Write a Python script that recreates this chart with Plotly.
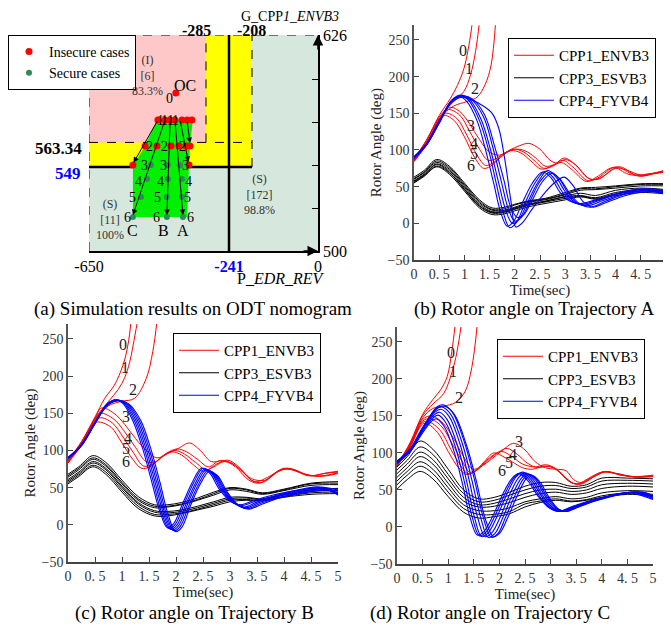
import numpy as np
import plotly.graph_objects as go

FONT = "Liberation Serif"
W, H = 671, 631
PAGE_OFFSET = 8   # the HTML body adds an 8 px margin; layout positions are given in window pixels

# ------------------------------------------------------------------
# (a) ODT nomogram data
# ------------------------------------------------------------------
X_BREAKS = [-650, -285, -241, -208, 0]      # P_EDR_REV values marked on the nomogram
X_DRAW = [0, 117, 140, 163, 229]            # schematic (not to scale) positions of those values
Y_MIN, Y_MAX = 500, 626
G_LIMIT_HI, G_LIMIT_LO = 563.34, 549
Y_TICKS = [500, 525, 550, 575, 600, 626]

OC_X, OC_Y = [-379], [592.2]
ROW_Y = [576.4, 561.2, 550.2, 542.0, 531.5, 519.8]          # cases 1..6
INSECURE_X = [[-435, -413, -397, -382, -360, -344, -329],
              [-475, -438, -394, -369, -347, -335],
              [-513, -338], [], [], []]
SECURE_X = [[], [], [-457, -404, -366], [-469, -404, -360],
            [-488, -407, -360], [-513, -407, -357]]
REGION_X = [-438, -326, -335, -338, -344, -513, -513, -475]
REGION_Y = [576.4, 576.4, 561.2, 549.6, 519.8, 519.8, 549.6, 561.2]
ARROWS = [((-435, 576.4), (-511, 551.5)), ((-413, 576.4), (-513, 521.0)),
          ((-397, 576.4), (-407, 521.0)), ((-382, 576.4), (-357, 521.0)),
          ((-366, 576.4), (-340, 552.0)), ((-344, 576.4), (-335, 563.0))]
CASE_LABELS = [("1", -428, 576.4), ("1", -413, 576.4), ("1", -397, 576.4), ("1", -379, 576.4),
               ("2", -460, 561.2), ("2", -413, 561.2), ("2", -357, 561.2),
               ("3", -478, 549.6), ("3", -419, 549.6), ("3", -350, 549.6),
               ("4", -497, 540.8), ("4", -428, 540.8), ("4", -341, 540.8),
               ("5", -513, 531.5), ("5", -435, 531.5), ("5", -344, 531.5),
               ("6", -531, 519.8), ("6", -438, 519.8), ("6", -332, 519.8),
               ("0", -400, 588.7)]
TRAJ_LABELS = [("C", -513, 512.2), ("B", -419, 512.2), ("A", -357, 512.2), ("OC", -350, 596.5)]
REGION_TEXT = [("(I)<br>[6]<br>83.3%", -466, 602.5),
               ("(S)<br>[11]<br>100%", -584, 518.5),
               ("(S)<br>[172]<br>98.8%", -183, 533.0)]


def nx(v):
    return np.interp(v, X_BREAKS, X_DRAW).tolist()


# ------------------------------------------------------------------
# Rotor angle curves (t [s], angle [deg])
# ------------------------------------------------------------------
T_TICKS = [0, 0.5, 1, 1.5, 2, 2.5, 3, 3.5, 4, 4.5, 5]
T_TICKTEXT = ["0", "0. 5", "1", "1. 5", "2", "2. 5", "3", "3. 5", "4", "4. 5", "5"]
ANG_TICKS = [-50, 0, 50, 100, 150, 200, 250]
ANG_TICKTEXT = ["\u221250", "0", "50", "100", "150", "200", "250"]

# --- Trajectory A ---
A_RED = [
    [(0, 88), (0.25, 114), (0.5, 147), (0.72, 170), (0.86, 188), (0.99, 211), (1.09, 243), (1.16, 275)],
    [(0, 87), (0.25, 113), (0.5, 145), (0.79, 166), (0.99, 180), (1.12, 202), (1.22, 234), (1.3, 275)],
    [(0, 86), (0.25, 112), (0.5, 143), (0.79, 160), (1.05, 166), (1.25, 172), (1.41, 189), (1.53, 216), (1.62, 275)],
    [(0, 86), (0.25, 110), (0.5, 142), (0.7, 158), (0.9, 153), (1.1, 136), (1.3, 114), (1.5, 97), (1.7, 93),
     (1.9, 100), (2.1, 106), (2.28, 109), (2.5, 101), (2.7, 86), (2.85, 82), (3.0, 87), (3.2, 80), (3.5, 60),
     (3.7, 62), (4.0, 75), (4.2, 73), (4.5, 66), (4.8, 69), (5.0, 73)],
    [(0, 85), (0.25, 109), (0.5, 140), (0.66, 155), (0.9, 148), (1.1, 126), (1.3, 101), (1.47, 86), (1.62, 88),
     (1.8, 96), (2.0, 101), (2.2, 99), (2.4, 90), (2.6, 78), (2.78, 80), (2.98, 89), (3.2, 80), (3.45, 62),
     (3.65, 60), (3.95, 74), (4.1, 77), (4.4, 66), (4.7, 68), (5.0, 70)],
    [(0, 85), (0.25, 108), (0.5, 138), (0.63, 150), (0.85, 143), (1.05, 120), (1.25, 93), (1.42, 79), (1.58, 83),
     (1.78, 94), (1.98, 101), (2.18, 97), (2.38, 86), (2.58, 75), (2.78, 80), (2.95, 86), (3.15, 77), (3.45, 58),
     (3.65, 62), (4.0, 77), (4.3, 68), (4.5, 64), (4.8, 69), (5.0, 72)],
    [(0, 84), (0.25, 107), (0.5, 136), (0.6, 147), (0.8, 140), (1.0, 118), (1.2, 90), (1.38, 75), (1.52, 78),
     (1.72, 90), (1.92, 99), (2.12, 96), (2.32, 85), (2.52, 74), (2.72, 77), (2.92, 83), (3.12, 74), (3.42, 57),
     (3.62, 63), (3.95, 76), (4.25, 67), (4.55, 65), (4.8, 68), (5.0, 70)],
]
A_BLK_T = [0, 0.2, 0.45, 0.7, 1.0, 1.3, 1.55, 1.8, 2.0, 2.3, 2.6, 3.0, 3.3, 3.6, 4.0, 4.5, 5.0]
A_BLK = [
    [63, 72, 87, 78, 55, 32, 21, 22, 26, 31, 34, 42, 48, 49, 51, 54, 54],
    [61, 70, 85, 76, 53, 30, 19, 20, 25, 30, 33, 40, 47, 47, 50, 53, 53],
    [60, 69, 83, 74, 51, 28, 18, 18, 22, 29, 32, 39, 45, 46, 48, 51, 51],
    [58, 67, 81, 72, 49, 26, 16, 17, 21, 27, 30, 37, 41, 38, 45, 48, 46],
    [57, 66, 80, 70, 47, 24, 15, 16, 20, 26, 30, 36, 38, 35, 42, 46, 43],
    [56, 65, 78, 69, 46, 23, 14, 15, 19, 25, 29, 34, 37, 34, 40, 44, 42],
    [55, 64, 77, 67, 44, 21, 12, 13, 17, 23, 27, 32, 36, 33, 38, 42, 40],
]
A_BLU = [
    [(0, 91), (0.25, 109), (0.5, 140), (0.75, 167), (0.9, 173), (1.05, 166), (1.25, 140), (1.42, 100), (1.58, 55),
     (1.72, 15), (1.85, -4), (1.98, 3), (2.15, 28), (2.35, 55), (2.55, 70), (2.72, 62), (2.9, 42), (3.1, 30),
     (3.3, 27), (3.6, 32), (4.0, 40), (4.5, 46), (5.0, 44)],
    [(0, 90), (0.25, 108), (0.5, 139), (0.75, 168), (0.92, 174), (1.08, 168), (1.3, 140), (1.48, 100), (1.63, 55),
     (1.77, 15), (1.9, -6), (2.03, 1), (2.2, 27), (2.4, 55), (2.6, 71), (2.77, 62), (2.95, 42), (3.15, 29),
     (3.35, 26), (3.65, 32), (4.05, 41), (4.5, 47), (5.0, 45)],
    [(0, 90), (0.25, 108), (0.5, 138), (0.75, 168), (0.93, 175), (1.1, 169), (1.33, 142), (1.52, 100), (1.68, 55),
     (1.82, 18), (1.95, 0), (2.08, 5), (2.25, 28), (2.45, 55), (2.65, 72), (2.82, 63), (3.0, 43), (3.2, 28),
     (3.4, 25), (3.7, 32), (4.1, 41), (4.5, 46), (5.0, 43)],
    [(0, 89), (0.25, 107), (0.5, 137), (0.75, 167), (0.94, 174), (1.12, 170), (1.38, 145), (1.57, 102), (1.73, 58),
     (1.87, 20), (2.0, 3), (2.13, 8), (2.3, 30), (2.5, 57), (2.7, 70), (2.87, 62), (3.05, 42), (3.25, 27),
     (3.45, 24), (3.75, 31), (4.15, 40), (4.6, 45), (5.0, 41)],
    [(0, 89), (0.25, 107), (0.5, 137), (0.75, 166), (0.95, 173), (1.15, 170), (1.4, 148), (1.6, 105), (1.78, 60),
     (1.92, 22), (2.05, 8), (2.18, 12), (2.35, 32), (2.55, 57), (2.73, 68), (2.9, 60), (3.1, 40), (3.3, 26),
     (3.5, 22), (3.8, 30), (4.2, 40), (4.6, 44), (5.0, 40)],
    [(0, 90), (0.25, 108), (0.5, 138), (0.75, 165), (0.95, 172), (1.15, 168), (1.35, 161), (1.55, 150), (1.68, 130),
     (1.8, 88), (1.92, 32), (2.02, -5), (2.14, 0), (2.35, 20), (2.6, 42), (2.8, 56), (2.98, 63), (3.15, 52),
     (3.35, 30), (3.55, 22), (3.8, 28), (4.2, 38), (4.6, 43), (5.0, 41)],
]
A_LABELS = [("0", 0.97, 236), ("1", 1.10, 211), ("2", 1.22, 184), ("3", 1.13, 134),
            ("4", 1.20, 109), ("5", 1.20, 95), ("6", 1.13, 79)]

# --- Trajectory B ---
B_RED = [
    [(0, 86), (0.25, 112), (0.5, 145), (0.68, 170), (0.86, 188), (1.02, 215), (1.11, 242), (1.17, 275)],
    [(0, 86), (0.25, 111), (0.5, 143), (0.75, 166), (0.93, 182), (1.05, 198), (1.14, 218), (1.24, 255), (1.29, 275)],
    [(0, 85), (0.25, 110), (0.5, 142), (0.75, 160), (0.99, 166), (1.23, 170), (1.45, 197), (1.57, 233), (1.65, 275)],
    [(0, 86), (0.25, 110), (0.5, 143), (0.62, 157), (0.85, 150), (1.05, 135), (1.25, 116), (1.45, 100), (1.65, 90),
     (1.85, 96), (2.05, 103), (2.25, 110), (2.45, 100), (2.65, 85), (2.85, 86), (3.05, 82), (3.25, 70), (3.45, 58),
     (3.7, 64), (4.0, 76), (4.25, 72), (4.5, 66), (4.8, 70), (5.0, 72)],
    [(0, 85), (0.25, 109), (0.5, 141), (0.6, 150), (0.85, 142), (1.05, 125), (1.25, 104), (1.45, 85), (1.62, 85),
     (1.82, 96), (2.02, 102), (2.2, 98), (2.4, 88), (2.6, 78), (2.8, 86), (3.0, 84), (3.2, 74), (3.4, 62),
     (3.65, 60), (3.95, 74), (4.2, 74), (4.45, 66), (4.75, 69), (5.0, 71)],
    [(0, 84), (0.25, 108), (0.5, 139), (0.6, 144), (0.82, 137), (1.02, 118), (1.22, 96), (1.4, 79), (1.58, 82),
     (1.78, 94), (1.98, 100), (2.16, 95), (2.36, 84), (2.56, 74), (2.76, 82), (2.96, 87), (3.16, 78), (3.4, 60),
     (3.6, 57), (3.9, 72), (4.1, 76), (4.4, 67), (4.7, 66), (5.0, 70)],
    [(0, 83), (0.25, 107), (0.5, 137), (0.6, 138), (0.8, 131), (1.0, 110), (1.2, 88), (1.36, 76), (1.52, 78),
     (1.72, 90), (1.92, 98), (2.1, 94), (2.3, 82), (2.5, 72), (2.7, 78), (2.9, 85), (3.1, 78), (3.35, 60),
     (3.55, 56), (3.85, 70), (4.05, 75), (4.35, 69), (4.65, 65), (5.0, 69)],
]
B_BLK_T = [0, 0.2, 0.46, 0.7, 1.0, 1.3, 1.6, 1.85, 2.1, 2.4, 2.7, 3.0, 3.3, 3.6, 4.0, 4.5, 5.0]
B_BLK = [
    [68, 78, 93, 84, 60, 38, 27, 27, 30, 36, 44, 50, 48, 43, 48, 56, 58],
    [66, 76, 90, 81, 57, 35, 25, 25, 28, 34, 42, 49, 47, 42, 47, 55, 56],
    [64, 74, 88, 79, 55, 33, 23, 24, 27, 33, 40, 47, 45, 41, 46, 53, 54],
    [61, 71, 85, 76, 52, 30, 19, 18, 20, 25, 31, 37, 37, 35, 41, 47, 49],
    [59, 69, 83, 74, 50, 28, 17, 16, 18, 23, 29, 35, 36, 34, 40, 45, 46],
    [57, 67, 80, 71, 47, 25, 14, 14, 16, 21, 27, 33, 34, 33, 38, 43, 44],
    [55, 65, 78, 68, 44, 22, 12, 12, 15, 20, 25, 31, 33, 32, 37, 41, 42],
]
B_BLU = [
    [(0, 91), (0.25, 108), (0.5, 138), (0.72, 162), (0.88, 168), (1.02, 163), (1.2, 140), (1.38, 103), (1.55, 58),
     (1.7, 18), (1.84, -4), (1.96, 2), (2.12, 28), (2.3, 57), (2.47, 76), (2.62, 70), (2.8, 48), (3.0, 32),
     (3.2, 27), (3.45, 33), (3.8, 40), (4.2, 46), (4.6, 51), (5.0, 47)],
    [(0, 90), (0.25, 108), (0.5, 138), (0.72, 162), (0.89, 168), (1.04, 163), (1.23, 140), (1.41, 103), (1.58, 58),
     (1.73, 17), (1.87, -5), (1.99, 1), (2.15, 28), (2.33, 57), (2.5, 76), (2.65, 70), (2.83, 48), (3.03, 31),
     (3.23, 26), (3.48, 32), (3.83, 39), (4.25, 46), (4.65, 50), (5.0, 45)],
    [(0, 90), (0.25, 107), (0.5, 137), (0.72, 161), (0.9, 168), (1.06, 163), (1.26, 140), (1.44, 103), (1.61, 58),
     (1.76, 17), (1.9, -6), (2.02, 0), (2.18, 27), (2.36, 56), (2.53, 75), (2.68, 69), (2.86, 47), (3.06, 30),
     (3.26, 24), (3.51, 31), (3.86, 39), (4.3, 47), (4.7, 49), (5.0, 43)],
    [(0, 90), (0.25, 107), (0.5, 137), (0.72, 161), (0.9, 167), (1.08, 163), (1.29, 140), (1.47, 103), (1.64, 58),
     (1.79, 16), (1.93, -7), (2.05, -1), (2.21, 27), (2.39, 56), (2.56, 74), (2.71, 68), (2.89, 46), (3.09, 29),
     (3.29, 23), (3.54, 30), (3.9, 38), (4.35, 46), (4.75, 48), (5.0, 42)],
    [(0, 89), (0.25, 107), (0.5, 136), (0.72, 160), (0.91, 167), (1.1, 163), (1.32, 140), (1.5, 103), (1.67, 58),
     (1.82, 15), (1.96, -8), (2.08, -2), (2.24, 26), (2.42, 55), (2.59, 73), (2.74, 67), (2.92, 45), (3.12, 28),
     (3.32, 22), (3.57, 29), (3.93, 37), (4.4, 45), (4.8, 47), (5.0, 41)],
    [(0, 89), (0.25, 106), (0.5, 136), (0.72, 160), (0.91, 167), (1.12, 163), (1.35, 140), (1.53, 103), (1.7, 58),
     (1.85, 15), (1.99, -9), (2.11, -3), (2.27, 26), (2.45, 55), (2.62, 72), (2.77, 66), (2.95, 44), (3.15, 27),
     (3.35, 21), (3.6, 28), (3.96, 37), (4.45, 44), (4.85, 46), (5.0, 40)],
]
B_LABELS = [("0", 1.02, 242), ("1", 1.05, 211), ("2", 1.2, 182), ("3", 1.08, 146),
            ("4", 1.11, 116), ("5", 1.08, 103), ("6", 1.08, 85)]

# --- Trajectory C ---
C_RED = [
    [(0, 84), (0.25, 113), (0.5, 152), (0.7, 172), (0.85, 185), (0.98, 203), (1.07, 237), (1.14, 275)],
    [(0, 84), (0.25, 112), (0.5, 150), (0.7, 166), (0.91, 180), (1.07, 208), (1.17, 236), (1.26, 275)],
    [(0, 83), (0.25, 111), (0.5, 147), (0.7, 160), (0.9, 163), (1.14, 168), (1.33, 183), (1.46, 215), (1.57, 275)],
    [(0, 83), (0.25, 110), (0.5, 145), (0.68, 150), (0.9, 140), (1.1, 120), (1.3, 95), (1.48, 78), (1.65, 82),
     (1.85, 92), (2.05, 103), (2.28, 113), (2.5, 104), (2.7, 88), (2.9, 80), (3.1, 78), (3.3, 76), (3.45, 64),
     (3.6, 60), (3.85, 68), (4.05, 74), (4.3, 72), (4.6, 68), (5.0, 70)],
    [(0, 83), (0.25, 109), (0.5, 143), (0.65, 146), (0.88, 135), (1.08, 112), (1.28, 88), (1.42, 74), (1.58, 78),
     (1.78, 90), (1.98, 101), (2.15, 106), (2.35, 98), (2.55, 86), (2.75, 80), (2.95, 82), (3.15, 76), (3.4, 60),
     (3.6, 58), (3.9, 70), (4.1, 75), (4.35, 70), (4.65, 68), (5.0, 69)],
    [(0, 82), (0.25, 108), (0.5, 141), (0.62, 142), (0.85, 130), (1.05, 105), (1.25, 82), (1.38, 72), (1.55, 76),
     (1.75, 90), (1.95, 100), (2.05, 102), (2.25, 95), (2.45, 85), (2.7, 81), (2.9, 84), (3.1, 79), (3.35, 62),
     (3.55, 58), (3.85, 69), (4.05, 75), (4.4, 70), (4.7, 67), (5.0, 68)],
    [(0, 82), (0.25, 107), (0.5, 139), (0.6, 139), (0.8, 127), (1.0, 102), (1.2, 80), (1.35, 71), (1.5, 74),
     (1.7, 88), (1.89, 100), (2.05, 96), (2.25, 88), (2.45, 80), (2.65, 78), (2.85, 82), (3.05, 80), (3.3, 66),
     (3.5, 58), (3.8, 68), (4.0, 74), (4.3, 72), (4.6, 68), (5.0, 69)],
]
C_BLK_T = [0, 0.2, 0.45, 0.7, 1.0, 1.3, 1.6, 1.9, 2.2, 2.5, 2.8, 3.1, 3.4, 3.7, 4.0, 4.5, 5.0]
C_BLK = [
    [81, 95, 116, 105, 78, 50, 38, 40, 47, 55, 60, 60, 55, 57, 66, 66, 65],
    [77, 90, 108, 98, 71, 45, 34, 36, 43, 50, 55, 56, 52, 54, 62, 63, 62],
    [72, 85, 101, 91, 65, 40, 30, 32, 38, 45, 50, 51, 48, 50, 57, 59, 58],
    [67, 80, 95, 85, 59, 35, 27, 28, 33, 40, 45, 47, 44, 46, 52, 55, 54],
    [62, 75, 88, 78, 53, 30, 22, 22, 26, 34, 38, 41, 38, 40, 46, 49, 48],
    [57, 70, 82, 72, 47, 25, 17, 17, 21, 31, 35, 38, 35, 37, 42, 46, 44],
    [51, 64, 75, 65, 41, 20, 12, 14, 18, 27, 33, 36, 34, 36, 40, 44, 42],
]
C_BLU = [
    [(0, 86), (0.25, 101), (0.5, 127), (0.68, 143), (0.77, 146), (0.92, 136), (1.1, 105), (1.28, 58), (1.43, 12),
     (1.57, -11), (1.7, -6), (1.88, 16), (2.07, 45), (2.25, 66), (2.38, 72), (2.55, 63), (2.75, 42), (2.95, 27),
     (3.15, 21), (3.4, 27), (3.75, 35), (4.15, 42), (4.55, 46), (5.0, 37)],
    [(0, 86), (0.25, 102), (0.5, 129), (0.7, 147), (0.8, 151), (0.95, 141), (1.14, 108), (1.32, 60), (1.47, 13),
     (1.61, -12), (1.74, -7), (1.92, 16), (2.11, 45), (2.29, 67), (2.42, 73), (2.59, 63), (2.79, 41), (2.99, 26),
     (3.17, 21), (3.42, 27), (3.78, 35), (4.2, 42), (4.6, 47), (5.0, 38)],
    [(0, 87), (0.25, 103), (0.5, 131), (0.72, 151), (0.83, 155), (0.98, 145), (1.18, 110), (1.36, 62), (1.51, 14),
     (1.65, -13), (1.78, -8), (1.96, 15), (2.15, 45), (2.33, 68), (2.46, 74), (2.63, 63), (2.83, 41), (3.03, 25),
     (3.2, 21), (3.45, 27), (3.8, 35), (4.25, 43), (4.65, 47), (5.0, 39)],
    [(0, 87), (0.25, 103), (0.5, 132), (0.74, 155), (0.86, 159), (1.02, 149), (1.23, 112), (1.41, 63), (1.57, 14),
     (1.72, -13), (1.85, -8), (2.02, 14), (2.2, 44), (2.38, 67), (2.51, 73), (2.67, 63), (2.86, 41), (3.06, 25),
     (3.23, 21), (3.48, 27), (3.83, 35), (4.3, 44), (4.7, 47), (5.0, 40)],
    [(0, 88), (0.25, 104), (0.5, 133), (0.76, 159), (0.88, 162), (1.05, 152), (1.27, 114), (1.46, 64), (1.63, 14),
     (1.78, -14), (1.91, -9), (2.07, 13), (2.25, 43), (2.43, 66), (2.55, 72), (2.71, 63), (2.9, 41), (3.09, 25),
     (3.26, 21), (3.5, 27), (3.86, 36), (4.35, 45), (4.75, 47), (5.0, 41)],
    [(0, 88), (0.25, 104), (0.5, 134), (0.78, 162), (0.9, 165), (1.08, 155), (1.31, 116), (1.51, 65), (1.68, 14),
     (1.84, -14), (1.97, -9), (2.12, 13), (2.3, 42), (2.47, 65), (2.59, 71), (2.75, 62), (2.93, 41), (3.12, 25),
     (3.28, 21), (3.53, 27), (3.9, 36), (4.4, 45), (4.8, 47), (5.0, 42)],
    [(0, 89), (0.25, 105), (0.5, 134), (0.8, 161), (0.93, 163), (1.12, 152), (1.35, 112), (1.55, 62), (1.72, 12),
     (1.88, -13), (2.01, -8), (2.16, 12), (2.34, 41), (2.51, 64), (2.62, 70), (2.78, 62), (2.96, 41), (3.14, 25),
     (3.3, 21), (3.55, 27), (3.92, 36), (4.45, 45), (4.85, 46), (5.0, 41)],
]
C_LABELS = [("0", 1.05, 236), ("1", 1.09, 210), ("2", 1.22, 175), ("3", 2.38, 115),
            ("4", 2.27, 98), ("5", 2.18, 87), ("6", 2.05, 76)]

SERIES_NAMES = ["CPP1_ENVB3", "CPP3_ESVB3", "CPP4_FYVB4"]
SERIES_COLORS = ["#ff0000", "#000000", "#0000ff"]


def px_x(p):
    return (p - PAGE_OFFSET) / W


def px_y(p):
    return 1 - (p - PAGE_OFFSET) / H


fig = go.Figure()

# ------------------------------------------------------------------
# (a) nomogram
# ------------------------------------------------------------------
def rect(x0, x1, y0, y1, color):
    return dict(type="rect", xref="x", yref="y", x0=nx(x0), x1=nx(x1), y0=y0, y1=y1,
                fillcolor=color, line=dict(width=0), layer="below")


def seg(x0, x1, y0, y1, w, dash):
    return dict(type="line", xref="x", yref="y", x0=nx(x0), x1=nx(x1), y0=y0, y1=y1,
                line=dict(color="black", width=w, dash=dash), layer="below")


shapes = [
    rect(X_BREAKS[0], X_BREAKS[-1], Y_MIN, Y_MAX, "#d6e8de"),
    rect(X_BREAKS[0], X_BREAKS[3], G_LIMIT_LO, Y_MAX, "#ffff00"),
    rect(X_BREAKS[0], X_BREAKS[1], G_LIMIT_HI, Y_MAX, "#ffc8c8"),
    seg(X_BREAKS[0], X_BREAKS[-1], Y_MAX, Y_MAX, 1, "dash"),
    seg(X_BREAKS[0], X_BREAKS[0], Y_MIN, Y_MAX, 1, "dash"),
    seg(X_BREAKS[1], X_BREAKS[1], G_LIMIT_HI, Y_MAX, 1, "dash"),
    seg(X_BREAKS[0], X_BREAKS[3], G_LIMIT_HI, G_LIMIT_HI, 1, "dash"),
    seg(X_BREAKS[3], X_BREAKS[3], G_LIMIT_LO, Y_MAX, 1, "dash"),
    seg(X_BREAKS[2], X_BREAKS[2], Y_MIN, Y_MAX, 2.5, "solid"),
    seg(X_BREAKS[0], X_BREAKS[3], G_LIMIT_LO, G_LIMIT_LO, 2.5, "solid"),
]

fig.add_trace(go.Scatter(x=nx(REGION_X + REGION_X[:1]), y=REGION_Y + REGION_Y[:1], fill="toself",
                         fillcolor="#00f000", mode="none", showlegend=False, hoverinfo="skip",
                         xaxis="x", yaxis="y"))

ins_x = OC_X + [v for row in INSECURE_X for v in row]
ins_y = OC_Y + [ROW_Y[i] for i, row in enumerate(INSECURE_X) for _ in row]
sec_x = [v for row in SECURE_X for v in row]
sec_y = [ROW_Y[i] for i, row in enumerate(SECURE_X) for _ in row]
fig.add_trace(go.Scatter(x=nx(ins_x), y=ins_y, mode="markers", name="Insecure cases",
                         marker=dict(color="#ff0000", size=7), xaxis="x", yaxis="y", legend="legend4"))
fig.add_trace(go.Scatter(x=nx(sec_x), y=sec_y, mode="markers", name="Secure cases",
                         marker=dict(color="#2e8b57", size=6), xaxis="x", yaxis="y", legend="legend4"))

annotations = []
for (x0, y0), (x1, y1) in ARROWS:
    annotations.append(dict(x=nx(x1), y=y1, ax=nx(x0), ay=y0, xref="x", yref="y", axref="x", ayref="y",
                            text="", showarrow=True, arrowhead=2, arrowsize=1.1, arrowwidth=1,
                            arrowcolor="black"))
for txt, x, y in CASE_LABELS:
    annotations.append(dict(x=nx(x), y=y, xref="x", yref="y", text=txt, showarrow=False, xanchor="center",
                            font=dict(family=FONT, size=14, color="black")))
for txt, x, y in TRAJ_LABELS:
    annotations.append(dict(x=nx(x), y=y, xref="x", yref="y", text=txt, showarrow=False, xanchor="center",
                            font=dict(family=FONT, size=16, color="black")))
for txt, x, y in REGION_TEXT:
    annotations.append(dict(x=nx(x), y=y, xref="x", yref="y", text=txt, showarrow=False, xanchor="center",
                            font=dict(family=FONT, size=12, color="#333333")))
# axis arrows
annotations.append(dict(x=X_DRAW[-1], y=Y_MIN, ax=-16, ay=0, xref="x", yref="y", text="", showarrow=True,
                        arrowhead=2, arrowsize=1.4, arrowwidth=1.5, arrowcolor="black"))
annotations.append(dict(x=X_DRAW[-1], y=Y_MAX, ax=0, ay=16, xref="x", yref="y", text="", showarrow=True,
                        arrowhead=2, arrowsize=1.4, arrowwidth=1.5, arrowcolor="black"))
# nomogram limit labels
bold = dict(family=FONT, size=16, color="black")
annotations += [
    dict(x=px_x(197), y=px_y(31), xref="paper", yref="paper", text="<b>-285</b>", showarrow=False,
         font=bold, xanchor="center", yanchor="middle"),
    dict(x=px_x(251), y=px_y(31), xref="paper", yref="paper", text="<b>-208</b>", showarrow=False,
         font=bold, xanchor="center", yanchor="middle"),
    dict(x=px_x(84), y=px_y(149), xref="paper", yref="paper", text="<b>563.34</b>", showarrow=False,
         font=dict(family=FONT, size=17, color="black"), xanchor="right", yanchor="middle"),
    dict(x=px_x(83), y=px_y(173), xref="paper", yref="paper", text="<b>549</b>", showarrow=False,
         font=dict(family=FONT, size=17, color="#0000ff"), xanchor="right", yanchor="middle"),
    dict(x=px_x(290), y=px_y(8), xref="paper", yref="paper", text="G_CPP<i>1_ENVB3</i>", showarrow=False,
         font=dict(family=FONT, size=14, color="black"), xanchor="center", yanchor="top", borderpad=0),
    dict(x=px_x(281), y=px_y(278), xref="paper", yref="paper", text="P_<i>EDR_REV</i>", showarrow=False,
         font=dict(family=FONT, size=16, color="black"), xanchor="center", yanchor="middle"),
]

# ------------------------------------------------------------------
# rotor angle panels
# ------------------------------------------------------------------
panels = [
    ("x2", "y2", "legend", A_RED, A_BLK_T, A_BLK, A_BLU, A_LABELS),
    ("x3", "y3", "legend2", B_RED, B_BLK_T, B_BLK, B_BLU, B_LABELS),
    ("x4", "y4", "legend3", C_RED, C_BLK_T, C_BLK, C_BLU, C_LABELS),
]
for xa, ya, lg, red, blk_t, blk, blu, labels in panels:
    groups = [
        [list(zip(*c)) for c in red],
        [(blk_t, c) for c in blk],
        [list(zip(*c)) for c in blu],
    ]
    for gi, curves in enumerate(groups):
        for ci, (t, v) in enumerate(curves):
            fig.add_trace(go.Scatter(
                x=list(t), y=list(v), mode="lines", name=SERIES_NAMES[gi],
                line=dict(color=SERIES_COLORS[gi], width=1.1 if gi == 2 else 1, shape="spline", smoothing=1),
                showlegend=(ci == 0), legend=lg, legendgroup=f"{lg}{gi}", hoverinfo="skip",
                xaxis=xa, yaxis=ya))
    for txt, t, v in labels:
        annotations.append(dict(x=t, y=v, xref=xa, yref=ya, text=txt, showarrow=False, xanchor="center",
                                font=dict(family=FONT, size=16, color="#222222")))

captions = [("(a) Simulation results on ODT nomogram", 193, 309),
            ("(b) Rotor angle on Trajectory A", 534, 309),
            ("(c) Rotor angle on Trajectory B", 194, 613),
            ("(d) Rotor angle on Trajectory C", 490, 613)]
for txt, x, y in captions:
    annotations.append(dict(x=px_x(x), y=px_y(y), xref="paper", yref="paper", text=txt, showarrow=False,
                            xanchor="center", yanchor="middle",
                            font=dict(family=FONT, size=19, color="black")))

time_ax = dict(range=[0, 5], tickvals=T_TICKS, ticktext=T_TICKTEXT, ticks="inside", ticklen=5,
               tickcolor="#444", showline=True, linecolor="#444", linewidth=1.5, showgrid=False,
               zeroline=False, automargin=False, tickfont=dict(family=FONT, size=14, color="#333"),
               title=dict(text="Time(sec)", font=dict(family=FONT, size=15, color="#222"), standoff=0))
ang_ax = dict(range=[-50, 270], tickvals=ANG_TICKS, ticktext=ANG_TICKTEXT, ticks="inside", ticklen=5,
              tickcolor="#444", showline=True, linecolor="#555", linewidth=1.5, showgrid=False,
              zeroline=False, automargin=False, tickfont=dict(family=FONT, size=14, color="#333"),
              title=dict(text="Rotor Angle (deg)", font=dict(family=FONT, size=15, color="#222"), standoff=2))

legend_style = dict(bgcolor="white", bordercolor="black", borderwidth=1, xanchor="left", yanchor="top",
                    font=dict(family=FONT, size=15, color="black"), tracegroupgap=0, itemwidth=40)

fig.update_layout(
    width=W, height=H, margin=dict(l=0, r=0, t=0, b=0, autoexpand=False),
    paper_bgcolor="white", plot_bgcolor="rgba(0,0,0,0)",
    shapes=shapes, annotations=annotations,
    xaxis=dict(domain=[px_x(89), px_x(318)], range=[X_DRAW[0], X_DRAW[-1]], anchor="y",
               tickvals=nx([-650, -241, 0]),
               ticktext=["-650", "<b><span style='color:#0000ff'>-241</span></b>", "0"],
               ticks="", showline=True, linecolor="black", linewidth=1.5, showgrid=False, zeroline=False,
               automargin=False, tickfont=dict(family=FONT, size=16, color="black")),
    yaxis=dict(domain=[px_y(251), px_y(35)], range=[Y_MIN, Y_MAX], anchor="x", side="right",
               tickvals=Y_TICKS, ticktext=["500", "", "", "", "", "626"], ticks="inside", ticklen=6,
               tickcolor="black", showline=True, linecolor="black", linewidth=1.5, showgrid=False,
               zeroline=False, automargin=False, tickfont=dict(family=FONT, size=16, color="black")),
    xaxis2=dict(domain=[px_x(414), px_x(666)], anchor="y2", **time_ax),
    yaxis2=dict(domain=[px_y(260), px_y(25.3)], anchor="x2", **ang_ax),
    xaxis3=dict(domain=[px_x(68), px_x(338)], anchor="y3", **time_ax),
    yaxis3=dict(domain=[px_y(562), px_y(324)], anchor="x3", **ang_ax),
    xaxis4=dict(domain=[px_x(397), px_x(653)], anchor="y4", **time_ax),
    yaxis4=dict(domain=[px_y(564), px_y(327)], anchor="x4", **ang_ax),
    legend=dict(x=px_x(508), y=px_y(38), **legend_style),
    legend2=dict(x=px_x(173), y=px_y(333), **legend_style),
    legend3=dict(x=px_x(497), y=px_y(339), **legend_style),
    legend4=dict(x=px_x(8), y=px_y(35), bgcolor="white", bordercolor="black", borderwidth=1,
                 xanchor="left", yanchor="top", font=dict(family=FONT, size=14, color="black"),
                 itemwidth=30, tracegroupgap=0),
    showlegend=True,
)

fig.write_html("out.html")
